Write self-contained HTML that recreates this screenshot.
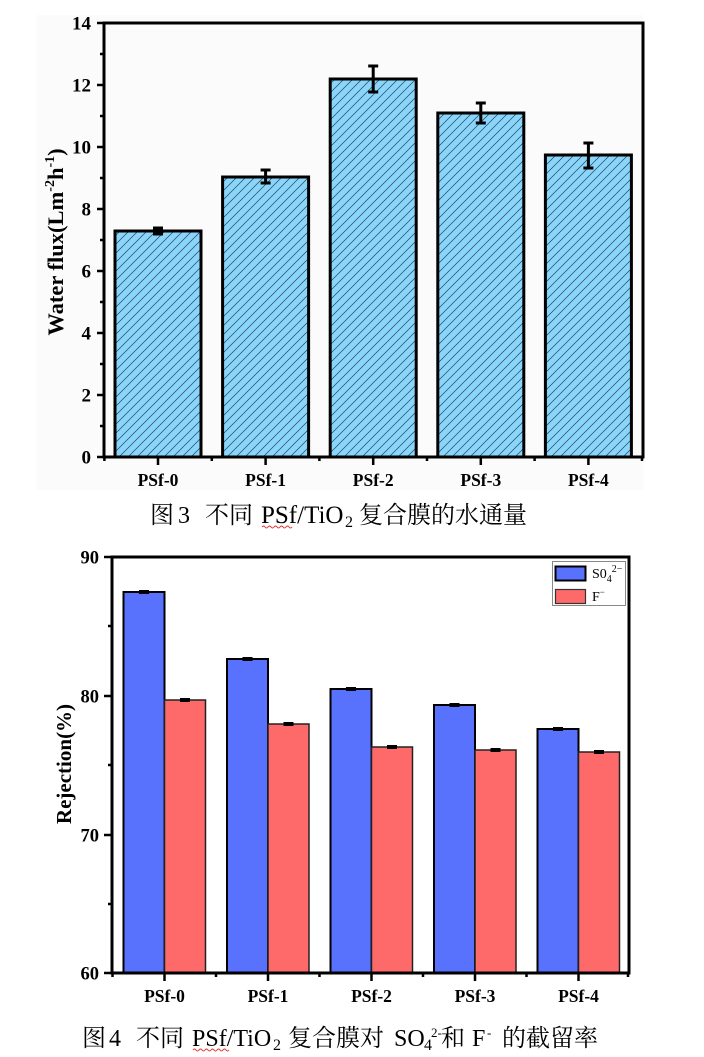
<!DOCTYPE html>
<html><head><meta charset="utf-8"><style>
html,body{margin:0;padding:0;background:#fff;}
svg{display:block;}
text{font-family:"Liberation Serif","Noto Serif CJK SC",serif;}
.b{font-weight:bold;}
</style></head><body>
<svg width="704" height="1057" viewBox="0 0 704 1057" xmlns="http://www.w3.org/2000/svg">
<defs>
<pattern id="h" patternUnits="userSpaceOnUse" width="9" height="9">
<rect width="9" height="9" fill="#8ad6fb"/>
<path d="M0,9 L9,0 M-2,2 L2,-2 M7,11 L11,7" stroke="#2c4a66" stroke-width="0.75"/>
</pattern>
</defs>
<rect x="37" y="15" width="606" height="475" fill="#fbfbfb"/>

<!-- Chart 1 bars -->
<g stroke="#000" stroke-width="3" fill="url(#h)">
<rect x="115" y="231" width="86" height="226"/>
<rect x="222.6" y="177" width="86" height="280"/>
<rect x="330.2" y="79" width="86" height="378"/>
<rect x="437.8" y="113" width="86" height="344"/>
<rect x="545.4" y="155" width="86" height="302"/>
</g>
<!-- error bars chart1 -->
<g stroke="#000" stroke-width="3" fill="none">
<path d="M158,228 V234 M153,228 H163 M153,234 H163"/>
<path d="M265.6,170 V183 M260.6,170 H270.6 M260.6,183 H270.6"/>
<path d="M373.2,66 V92 M368.2,66 H378.2 M368.2,92 H378.2"/>
<path d="M480.8,103 V123 M475.8,103 H485.8 M475.8,123 H485.8"/>
<path d="M588.4,143 V168 M583.4,143 H593.4 M583.4,168 H593.4"/>
</g>
<!-- axes chart1 -->
<rect x="104" y="23" width="539" height="434" fill="none" stroke="#000" stroke-width="3"/>
<g stroke="#000" stroke-width="2.5">
<path d="M97,23 H104 M97,85 H104 M97,147 H104 M97,209 H104 M97,271 H104 M97,333 H104 M97,395 H104 M97,457 H104"/>
<path d="M100,54 H104 M100,116 H104 M100,178 H104 M100,240 H104 M100,302 H104 M100,364 H104 M100,426 H104"/>
<path d="M158,457 V465 M265.6,457 V465 M373.2,457 V465 M480.8,457 V465 M588.4,457 V465"/>
<path d="M104.4,457 V461 M211.8,457 V461 M319.4,457 V461 M427,457 V461 M534.6,457 V461 M642,457 V461"/>
</g>
<g class="b" font-size="19" text-anchor="end">
<text x="91" y="29.5">14</text>
<text x="91" y="91.5">12</text>
<text x="91" y="153.5">10</text>
<text x="91" y="215.5">8</text>
<text x="91" y="277.5">6</text>
<text x="91" y="339.5">4</text>
<text x="91" y="401.5">2</text>
<text x="91" y="463.5">0</text>
</g>
<g class="b" font-size="17.5" text-anchor="middle">
<text x="158" y="486">PSf-0</text>
<text x="265.6" y="486">PSf-1</text>
<text x="373.2" y="486">PSf-2</text>
<text x="480.8" y="486">PSf-3</text>
<text x="588.4" y="486">PSf-4</text>
</g>
<text class="b" font-size="22.5" text-anchor="middle" transform="translate(63,242) rotate(-90)">Water flux(Lm<tspan font-size="14" dy="-9">-2</tspan><tspan dy="9">h</tspan><tspan font-size="14" dy="-9">-1</tspan><tspan dy="9">)</tspan></text>

<!-- Caption 1 -->
<g font-size="24">
<text x="150" y="523">图</text>
<text x="178" y="523">3</text>
<text x="205" y="523">不同</text>
<text x="261" y="523" font-size="25">PSf/TiO</text>
<text x="345" y="527" font-size="16">2</text>
<text x="359" y="523">复合膜的水通量</text>
</g>
<path d="M262,527 q1.5,-2 3,0 t3,0 t3,0 t3,0 t3,0 t3,0 t3,0 t3,0 t3,0 t3,0" stroke="#e03030" stroke-width="1" fill="none"/>

<!-- Chart 2 bars -->
<g stroke="#000" stroke-width="2" fill="#5872fe">
<rect x="123.5" y="592" width="41" height="381"/>
<rect x="227" y="659" width="41" height="314"/>
<rect x="330.5" y="689" width="41" height="284"/>
<rect x="434" y="705" width="41" height="268"/>
<rect x="537.5" y="729" width="41" height="244"/>
</g>
<g stroke="#222" stroke-width="1.5" fill="#fe6a6a">
<rect x="164.5" y="700" width="41" height="273"/>
<rect x="268" y="724" width="41" height="249"/>
<rect x="371.5" y="747" width="41" height="226"/>
<rect x="475" y="750" width="41" height="223"/>
<rect x="578.5" y="752" width="41" height="221"/>
</g>
<g fill="#000">
<rect x="139" y="590" width="10" height="4"/>
<rect x="242.5" y="657" width="10" height="4"/>
<rect x="346" y="687" width="10" height="4"/>
<rect x="449.5" y="703" width="10" height="4"/>
<rect x="553" y="727" width="10" height="4"/>
<rect x="180" y="698" width="10" height="4"/>
<rect x="283.5" y="722" width="10" height="4"/>
<rect x="387" y="745" width="10" height="4"/>
<rect x="490.5" y="748" width="10" height="4"/>
<rect x="594" y="750" width="10" height="4"/>
</g>
<rect x="112" y="557" width="517" height="416" fill="none" stroke="#000" stroke-width="3"/>
<g stroke="#000" stroke-width="2.5">
<path d="M104,557 H112 M104,696 H112 M104,835 H112 M104,973 H112"/>
<path d="M108,626 H112 M108,765 H112 M108,904 H112"/>
<path d="M164.5,973 V981 M268,973 V981 M371.5,973 V981 M475,973 V981 M578.5,973 V981"/>
<path d="M112.5,973 V977 M216,973 V977 M319.5,973 V977 M423,973 V977 M526.5,973 V977 M628,973 V977"/>
</g>
<g class="b" font-size="18.5" text-anchor="end">
<text x="99" y="563.5">90</text>
<text x="99" y="702.5">80</text>
<text x="99" y="841.5">70</text>
<text x="99" y="979.5">60</text>
</g>
<g class="b" font-size="17.5" text-anchor="middle">
<text x="164.5" y="1002">PSf-0</text>
<text x="268" y="1002">PSf-1</text>
<text x="371.5" y="1002">PSf-2</text>
<text x="475" y="1002">PSf-3</text>
<text x="578.5" y="1002">PSf-4</text>
</g>
<text class="b" font-size="21" text-anchor="middle" transform="translate(71,764) rotate(-90)">Rejection(%)</text>

<!-- legend -->
<rect x="552.5" y="561.5" width="73" height="44" fill="#fff" stroke="#888" stroke-width="1"/>
<rect x="555.5" y="566.5" width="30" height="14" fill="#5872fe" stroke="#000" stroke-width="2"/>
<rect x="555.5" y="589.5" width="30" height="14" fill="#fe6a6a" stroke="#333" stroke-width="1.2"/>
<text x="592" y="578" font-size="14">S0<tspan font-size="10" dy="4">4</tspan><tspan font-size="10" dy="-10">2−</tspan></text>
<text x="592" y="601" font-size="14">F<tspan font-size="9" dy="-6">−</tspan></text>

<!-- Caption 2 -->
<g font-size="24">
<text x="82" y="1046">图</text>
<text x="109" y="1046">4</text>
<text x="136" y="1046">不同</text>
<text x="192" y="1046">PSf/TiO</text>
<text x="273" y="1050" font-size="16">2</text>
<text x="288" y="1046">复合膜对</text>
<text x="394" y="1046">SO</text>
<text x="424" y="1050" font-size="16">4</text>
<text x="431" y="1037" font-size="13">2-</text>
<text x="441" y="1046">和</text>
<text x="472" y="1046">F</text>
<text x="487" y="1037" font-size="13">-</text>
<text x="502" y="1046">的截留率</text>
</g>
<path d="M193,1050 q1.5,-2 3,0 t3,0 t3,0 t3,0 t3,0 t3,0 t3,0 t3,0 t3,0 t3,0 t3,0 t3,0" stroke="#e03030" stroke-width="1" fill="none"/>
</svg>
</body></html>
